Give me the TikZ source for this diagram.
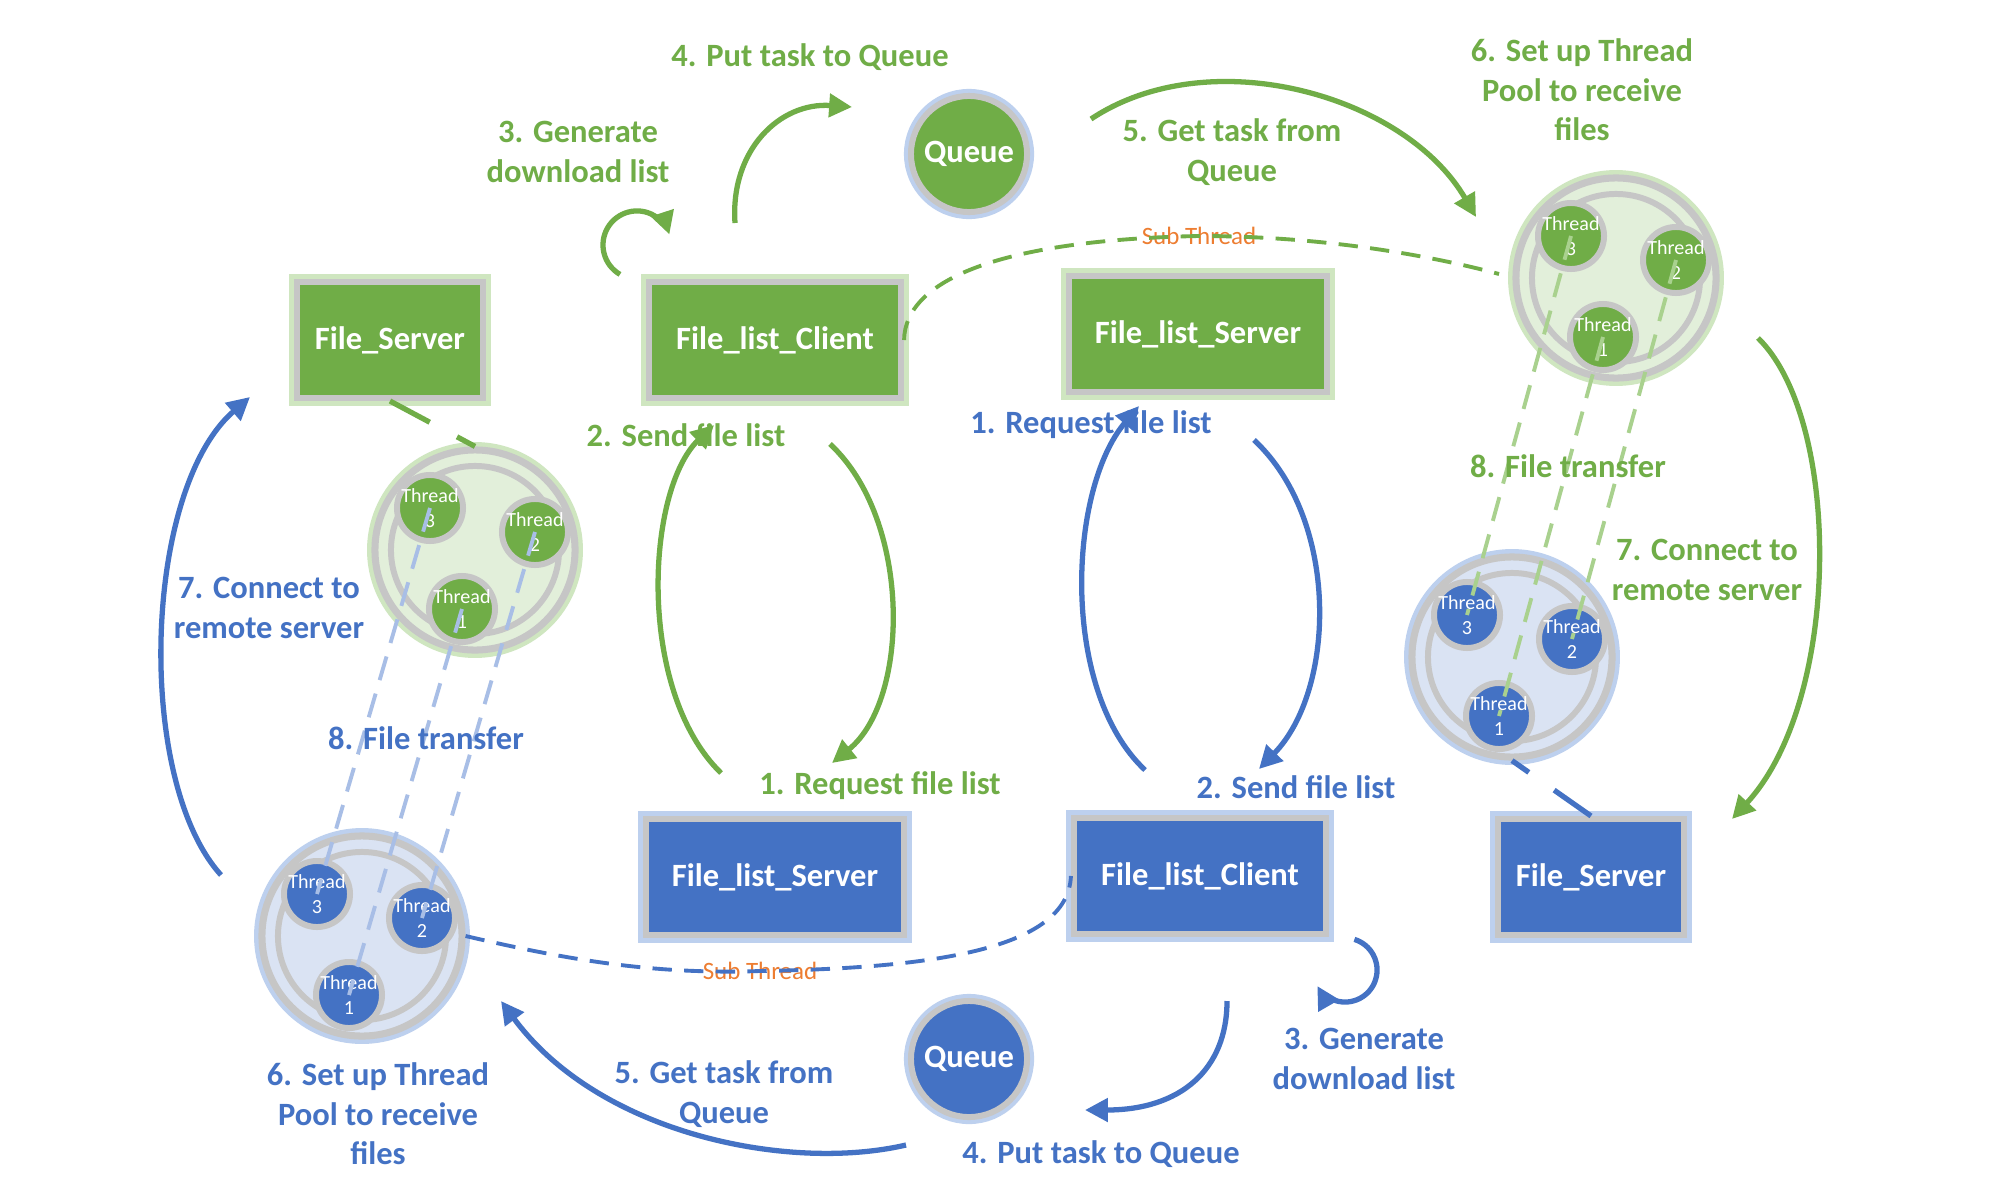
\documentclass[tikz,border=0pt]{standalone}
\usepackage{fontspec}
\setmainfont{Carlito}
\usetikzlibrary{arrows.meta}
\definecolor{gclr}{HTML}{70AD47}
\definecolor{bclr}{HTML}{4472C4}
\definecolor{grayc}{HTML}{C6C6C6}
\definecolor{lgfill}{HTML}{E2EFDA}
\definecolor{lbfill}{HTML}{DAE3F3}
\definecolor{gglow}{HTML}{CFE6C0}
\definecolor{bglow}{HTML}{BDD0EE}
\definecolor{dgline}{HTML}{A9D18E}
\definecolor{dbline}{HTML}{A8BEE6}
\definecolor{orc}{HTML}{ED7D31}
\newcommand\mypool[6]{%
  \node[pool, fill=#4, preaction={draw=#5, line width=4.5pt}] (#1) at (#2,#3) {};
  \node[ring] (#1r) at (#2,#3) {};
  \node[thr, fill=#6] (#1t3) at ({#2-45},{#3-42}) {};
  \node[thr, fill=#6] (#1t2) at ({#2+60},{#3-18}) {};
  \node[thr, fill=#6] (#1t1) at ({#2-13},{#3+59}) {};
  \node[thrtxt] (#1x3) at (#1t3) {Thread\\3};
  \node[thrtxt] (#1x2) at (#1t2) {Thread\\2};
  \node[thrtxt] (#1x1) at (#1t1) {Thread\\1};
}
\begin{document}
\begin{tikzpicture}[x=0.01cm,y=0.01cm,yscale=-1,
  box/.style={rectangle, draw=grayc, line width=1.7pt, minimum height=1.16cm, inner sep=0pt, text=white, font=\bfseries\fontsize{9.25pt}{11pt}\selectfont},
  gbox/.style={box, fill=gclr, preaction={draw=gglow, line width=4.5pt}},
  bbox/.style={box, fill=bclr, preaction={draw=bglow, line width=4.5pt}},
  queue/.style={circle, draw=grayc, line width=1.7pt, minimum size=1.16cm, inner sep=0pt, text=white, font=\bfseries\fontsize{9.25pt}{11pt}\selectfont, preaction={draw=bglow, line width=4pt}},
  pool/.style={circle, draw=grayc, line width=2pt, minimum size=2cm, inner sep=0pt},
  ring/.style={circle, draw=grayc, line width=1.7pt, minimum size=1.68cm, inner sep=0pt},
  thr/.style={circle, draw=grayc, line width=1.7pt, minimum size=0.66cm, inner sep=0pt},
  thrtxt/.style={text=white, font=\fontsize{5.7pt}{7.1pt}\selectfont, align=center, inner sep=0pt},
  lbl/.style={font=\bfseries\fontsize{9.25pt}{11.2pt}\selectfont, align=center, inner sep=0pt},
  subl/.style={text=orc, font=\fontsize{7.1pt}{8pt}\selectfont, inner sep=0pt},
  garrow/.style={draw=gclr, line width=1.5pt, -{Triangle[length=6.5pt,width=6.5pt]}},
  barrow/.style={draw=bclr, line width=1.5pt, -{Triangle[length=6.5pt,width=6.5pt]}},
  subdash/.style={line width=1.1pt, dash pattern=on 5.5pt off 3.5pt},
  thrdash/.style={line width=1.1pt, dash pattern=on 7pt off 4pt},
  conn/.style={line width=1.5pt, dash pattern=on 12.8pt off 8.8pt}]
\fill[white] (0,0) rectangle (2000,1200);
\useasboundingbox (0,0) rectangle (2000,1200);

% boxes
\node[gbox, minimum width=1.86cm] (gFS) at (390,340) {File\_Server};
\node[gbox, minimum width=2.52cm] (gFLC) at (775,340) {File\_list\_Client};
\node[gbox, minimum width=2.58cm] (gFLS) at (1198,334) {File\_list\_Server};
\node[bbox, minimum width=2.58cm] (bFLS) at (775,877) {File\_list\_Server};
\node[bbox, minimum width=2.52cm] (bFLC) at (1200,876) {File\_list\_Client};
\node[bbox, minimum width=1.86cm] (bFS) at (1591,877) {File\_Server};

% queues
\node[queue, fill=gclr] (gQ) at (969,154) {Queue};
\node[queue, fill=bclr] (bQ) at (969,1059) {Queue};

% pools
\mypool{gPa}{475}{550}{lgfill}{gglow}{gclr}
\mypool{gPb}{1616}{278}{lgfill}{gglow}{gclr}
\mypool{bPa}{362}{936}{lbfill}{bglow}{bclr}
\mypool{bPb}{1512}{657}{lbfill}{bglow}{bclr}

% short connectors box - pool
\draw[conn, gclr] (gFS.south) -- (gPa.north);
\draw[conn, bclr] (bFS.north) -- (bPb.south);

% file transfer dashed lines
\draw[thrdash, dgline] (gPbt3.center) -- (bPbt3.center);
\draw[thrdash, dgline] (gPbt2.center) -- (bPbt2.center);
\draw[thrdash, dgline] (gPbt1.center) -- (bPbt1.center);
\draw[thrdash, dbline] (gPat3.center) -- (bPat3.center);
\draw[thrdash, dbline] (gPat2.center) -- (bPat2.center);
\draw[thrdash, dbline] (gPat1.center) -- (bPat1.center);

% sub thread labels and dashed lines
\node[subl] (gst) at (1199,236) {Sub Thread};
\node[subl] (bst) at (760,971) {Sub Thread};
\coordinate (gsubend) at (1499,274);
\draw[subdash, gclr] (gFLC.east) .. controls (905,280) and (1000,240) .. (gst.center)
  .. controls (1330,236) and (1440,258) .. (gsubend);
\draw[subdash, bclr] (bPa.east) .. controls (560,958) and (650,975) .. (bst.center)
  .. controls (950,968) and (1068,945) .. (bFLC.west);

% green arrows
\coordinate (g1s) at (620,274.4);
\draw[garrow] (g1s) arc[start angle=120, end angle=342, radius=0.34cm];
\coordinate (g2s) at (735,223); \coordinate (g2e) at (852,107);
\draw[garrow] (g2s) .. controls (730,150) and (780,102) .. (g2e);
\coordinate (g3s) at (1091,119); \coordinate (g3e) at (1476,217);
\draw[garrow] (g3s) .. controls (1210,40) and (1405,95) .. (g3e);
\coordinate (g4s) at (1758,338); \coordinate (g4e) at (1732,819);
\draw[garrow] (g4s) .. controls (1842,420) and (1842,700) .. (g4e);
\coordinate (g5s) at (721,773); \coordinate (g5e) at (714,425);
\draw[garrow] (g5s) .. controls (636,690) and (646,490) .. (g5e);
\coordinate (g6s) at (830,444); \coordinate (g6e) at (832,763);
\draw[garrow] (g6s) .. controls (912,520) and (910,700) .. (g6e);

% blue arrows
\coordinate (b1s) at (1145,770); \coordinate (b1e) at (1139,406);
\draw[barrow] (b1s) .. controls (1060,690) and (1068,490) .. (b1e);
\coordinate (b2s) at (1254,440); \coordinate (b2e) at (1259,769);
\draw[barrow] (b2s) .. controls (1340,520) and (1336,690) .. (b2e);
\coordinate (b3s) at (1354.4,939.4);
\draw[barrow] (b3s) arc[start angle=-73, end angle=150, radius=0.32cm];
\coordinate (b4s) at (1227,1001); \coordinate (b4e) at (1085,1110);
\draw[barrow] (b4s) .. controls (1227,1070) and (1180,1110) .. (b4e);
\coordinate (b5s) at (906,1145); \coordinate (b5e) at (501,1001);
\draw[barrow] (b5s) .. controls (790,1172) and (600,1135) .. (b5e);
\coordinate (b6s) at (221,875); \coordinate (b6e) at (250,397);
\draw[barrow] (b6s) .. controls (135,780) and (143,490) .. (b6e);

% green labels
\node[lbl, text=gclr] (lg4) at (810,57) {4. Put task to Queue};
\node[lbl, text=gclr] (lg3) at (578,152) {3. Generate\\download list};
\node[lbl, text=gclr] (lg5) at (1232,152) {5. Get task from\\Queue};
\node[lbl, text=gclr] (lg6) at (1582,90) {6. Set up Thread\\Pool to receive\\files};
\node[lbl, text=gclr] (lg2) at (686,435) {2. Send file list};
\node[lbl, text=gclr] (lg8) at (1568,466) {8. File transfer};
\node[lbl, text=gclr] (lg7) at (1707,570) {7. Connect to\\remote server};
\node[lbl, text=gclr] (lg1) at (880,786) {1. Request file list};

% blue labels
\node[lbl, text=bclr] (lb1) at (1091,425) {1. Request file list};
\node[lbl, text=bclr] (lb2) at (1296,787) {2. Send file list};
\node[lbl, text=bclr] (lb7) at (269,608) {7. Connect to\\remote server};
\node[lbl, text=bclr] (lb8) at (426,738) {8. File transfer};
\node[lbl, text=bclr] (lb6) at (378,1114) {6. Set up Thread\\Pool to receive\\files};
\node[lbl, text=bclr] (lb5) at (724,1094) {5. Get task from\\Queue};
\node[lbl, text=bclr] (lb4) at (1101,1154) {4. Put task to Queue};
\node[lbl, text=bclr] (lb3) at (1364,1059) {3. Generate\\download list};
\end{tikzpicture}
\end{document}
